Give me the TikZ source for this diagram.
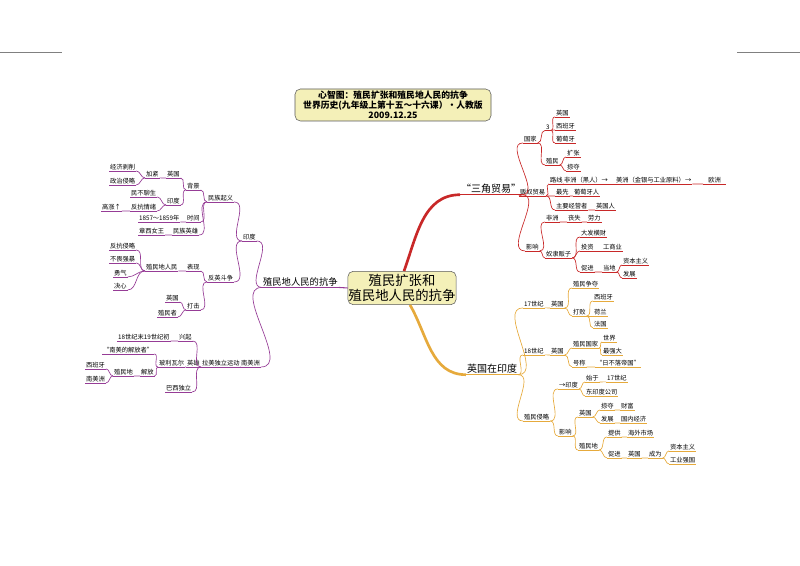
\documentclass[tikz,border=0pt]{standalone}
\usepackage{fontspec}
\setmainfont{Noto Sans CJK SC}
\begin{document}
\begin{tikzpicture}[x=0.75pt,y=-0.75pt,
  every node/.style={inner sep=0.6pt,anchor=west,font=\fontsize{4.7}{5.5}\selectfont},
  ulp/.style={append after command={(\tikzlastnode.south west) edge[draw=pc,line width=0.5pt] (\tikzlastnode.south east)}},
  ulr/.style={append after command={(\tikzlastnode.south west) edge[draw=rc,line width=0.5pt] (\tikzlastnode.south east)}},
  ulo/.style={append after command={(\tikzlastnode.south west) edge[draw=oc,line width=0.5pt] (\tikzlastnode.south east)}},
  cp/.style={draw=pc,line width=0.5pt},
  cr/.style={draw=rc,line width=0.5pt},
  co/.style={draw=oc,line width=0.5pt},
  boxy/.style={draw=gray!70!black,fill=yb,rounded corners=4pt,anchor=center,align=center}]
\definecolor{pc}{RGB}{150,60,150}
\definecolor{rc}{RGB}{200,40,40}
\definecolor{oc}{RGB}{230,170,60}
\definecolor{yb}{RGB}{244,240,184}
\useasboundingbox (0,0) rectangle (800,566);
\draw[gray,line width=0.4pt] (0,52) -- (62,52) (737,52) -- (800,52);
% title
\node[boxy,minimum width=147pt,minimum height=24pt,font=\fontsize{6.6}{7.6}\selectfont\bfseries] (title) at (393,105)
 {心智图：殖民扩张和殖民地人民的抗争\\世界历史(九年级上第十五～十六课）·人教版\\2009.12.25};
% center
\node[boxy,minimum width=78pt,minimum height=25pt,font=\fontsize{10}{11.5}\selectfont] (C) at (402,288) {殖民扩张和\\殖民地人民的抗争};
% main branches
\node[ulp,font=\fontsize{7}{8}\selectfont] (M1) at (262,282) {殖民地人民的抗争};
\node[ulr,font=\fontsize{7.5}{8}\selectfont] (M2) at (460,189) {“三角贸易”};
\node[ulo,font=\fontsize{7.5}{8}\selectfont] (M3) at (466,369) {英国在印度};
\draw[pc,line width=0.8pt] (M1.south east) to[out=0,in=180] (C.west);
\draw[rc,line width=2pt] (C.north)++(2,0) to[out=70,in=180] (M2.south west);
\draw[oc,line width=2pt] (C.south)++(8,0) to[out=-60,in=180] (M3.south west);
% ---------- left
\node[ulp] (L1) at (109,167) {经济剥削};
\node[ulp] (L2) at (109,181) {政治侵略};
\node[ulp] (L3) at (145,174) {加紧};
\node[ulp] (L4) at (166,174) {英国};
\node[ulp] (L5) at (186,186) {背景};
\node[ulp] (L6) at (130,193) {民不聊生};
\node[ulp] (L7) at (166,201) {印度};
\node[ulp] (L8) at (101,207) {高涨↑};
\node[ulp] (L9) at (130,207) {反抗情绪};
\node[ulp] (L10) at (207,198) {民族起义};
\node[ulp] (L11) at (138,218) {1857～1859年};
\node[ulp] (L12) at (186,218) {时间};
\node[ulp] (L13) at (138,231) {章西女王};
\node[ulp] (L14) at (172,231) {民族英雄};
\node[ulp] (L15) at (242,237) {印度};
\node[ulp] (L16) at (109,246) {反抗侵略};
\node[ulp] (L17) at (109,259) {不畏强暴};
\node[ulp] (L18) at (113,273) {勇气};
\node[ulp] (L19) at (113,286) {决心};
\node[ulp] (L20) at (145,267) {殖民地人民};
\node[ulp] (L21) at (186,267) {表现};
\node[ulp] (L22) at (207,278) {反英斗争};
\node[ulp] (L23) at (165,298) {英国};
\node[ulp] (L24) at (157,313) {殖民者};
\node[ulp] (L25) at (186,306) {打击};
\node[ulp] (L26) at (117,337) {18世纪末19世纪初};
\node[ulp] (L27) at (178,337) {兴起};
\node[ulp] (L28) at (102,350) {“南美的解放者”};
\node[ulp] (L29) at (85,365) {西班牙};
\node[ulp] (L30) at (85,379) {南美洲};
\node[ulp] (L31) at (113,372) {殖民地};
\node[ulp] (L32) at (140,372) {解放};
\node[ulp] (L33) at (158,363) {玻利瓦尔};
\node[ulp] (L34) at (186,363) {英雄};
\node[ulp] (L35) at (201,363) {拉美独立运动};
\node[ulp] (L36) at (240,363) {南美洲};
\node[ulp] (L37) at (165,388) {巴西独立};
\foreach \a/\b in {L1/L3,L2/L3,L3/L4,L4/L5,L6/L7,L8/L9,L9/L7,L7/L5,L5/L10,L11/L12,L12/L10,L13/L14,L14/L10,
  L10/L15,L22/L15,L16/L20,L17/L20,L18/L20,L19/L20,L20/L21,L21/L22,L23/L25,L24/L25,L25/L22,
  L26/L27,L27/L35,L29/L31,L30/L31,L31/L32,L32/L33,L28/L33,L33/L34,L34/L35,L37/L35,L35/L36,L15/M1,L36/M1}
  \draw[cp] (\a.south east) to[out=0,in=180] (\b.south west);
% ---------- right top
\node[ulr] (A1) at (523,139) {国家};
\node[ulr] (A2) at (545,127) {3};
\node[ulr] (A3) at (555,113) {英国};
\node[ulr] (A4) at (555,126) {西班牙};
\node[ulr] (A5) at (555,139) {葡萄牙};
\node[ulr] (A6) at (545,161) {殖民};
\node[ulr] (A7) at (566,153) {扩张};
\node[ulr] (A8) at (566,167) {掠夺};
\node[ulr] (A9) at (519,192) {贩奴贸易};
\node[ulr] (A10) at (549,180) {路线};
\node[ulr] (A11) at (563,180) {非洲（黑人）→};
\node[ulr] (A12) at (615,180) {美洲（金银与工业原料）→};
\node[ulr,minimum width=17pt] (A13) at (703,180) {欧洲};
\node[ulr] (A14) at (555,192) {最先};
\node[ulr] (A15) at (573,192) {葡萄牙人};
\node[ulr] (A16) at (555,206) {主要经营者};
\node[ulr] (A17) at (595,206) {英国人};
\node[ulr] (A18) at (525,247) {影响};
\node[ulr] (A19) at (545,218) {非洲};
\node[ulr] (A20) at (567,218) {丧失};
\node[ulr] (A21) at (587,218) {劳力};
\node[ulr] (A22) at (545,254) {奴隶贩子};
\node[ulr] (A23) at (580,233) {大发横财};
\node[ulr] (A24) at (580,247) {投资};
\node[ulr] (A25) at (602,247) {工商业};
\node[ulr] (A26) at (580,268) {促进};
\node[ulr] (A27) at (602,268) {当地};
\node[ulr] (A28) at (622,261) {资本主义};
\node[ulr] (A29) at (622,274) {发展};
\foreach \a/\b in {M2/A1,M2/A9,M2/A18,A1/A2,A1/A6,A2/A3,A2/A4,A2/A5,A6/A7,A6/A8,A9/A10,A9/A14,A9/A16,
  A10/A11,A11/A12,A12/A13,A14/A15,A16/A17,A18/A19,A18/A22,A19/A20,A20/A21,A22/A23,A22/A24,A22/A26,
  A24/A25,A26/A27,A27/A28,A27/A29}
  \draw[cr] (\a.south east) to[out=0,in=180] (\b.south west);
% ---------- right bottom
\node[ulo] (B1) at (523,304) {17世纪};
\node[ulo] (B2) at (550,304) {英国};
\node[ulo] (B3) at (572,284) {殖民争夺};
\node[ulo] (B4) at (572,312) {打败};
\node[ulo] (B5) at (593,297) {西班牙};
\node[ulo] (B6) at (593,312) {荷兰};
\node[ulo] (B7) at (593,324) {法国};
\node[ulo] (B8) at (523,351) {18世纪};
\node[ulo] (B9) at (550,351) {英国};
\node[ulo] (B10) at (572,344) {殖民国家};
\node[ulo] (B11) at (602,338) {世界};
\node[ulo] (B12) at (602,351) {最强大};
\node[ulo] (B13) at (572,363) {号称};
\node[ulo] (B14) at (595,363) {“日不落帝国”};
\node[ulo] (B15) at (523,417) {殖民侵略};
\node[ulo] (B16) at (558,385) {→印度};
\node[ulo] (B17) at (585,378) {始于};
\node[ulo] (B18) at (606,378) {17世纪};
\node[ulo] (B19) at (585,392) {东印度公司};
\node[ulo] (B20) at (558,432) {影响};
\node[ulo] (B21) at (578,413) {英国};
\node[ulo] (B22) at (600,406) {掠夺};
\node[ulo] (B23) at (620,406) {财富};
\node[ulo] (B24) at (600,419) {发展};
\node[ulo] (B25) at (620,419) {国内经济};
\node[ulo] (B26) at (578,446) {殖民地};
\node[ulo] (B27) at (607,433) {提供};
\node[ulo] (B28) at (627,433) {海外市场};
\node[ulo] (B29) at (607,454) {促进};
\node[ulo] (B30) at (627,454) {英国};
\node[ulo] (B31) at (648,454) {成为};
\node[ulo] (B32) at (669,447) {资本主义};
\node[ulo] (B33) at (669,460) {工业强国};
\foreach \a/\b in {M3/B1,M3/B8,M3/B15,B1/B2,B2/B3,B2/B4,B4/B5,B4/B6,B4/B7,B8/B9,B9/B10,B9/B13,
  B10/B11,B10/B12,B13/B14,B15/B16,B15/B20,B16/B17,B16/B19,B17/B18,B20/B21,B20/B26,B21/B22,B21/B24,
  B22/B23,B24/B25,B26/B27,B26/B29,B27/B28,B29/B30,B30/B31,B31/B32,B31/B33}
  \draw[co] (\a.south east) to[out=0,in=180] (\b.south west);
\end{tikzpicture}
\end{document}
